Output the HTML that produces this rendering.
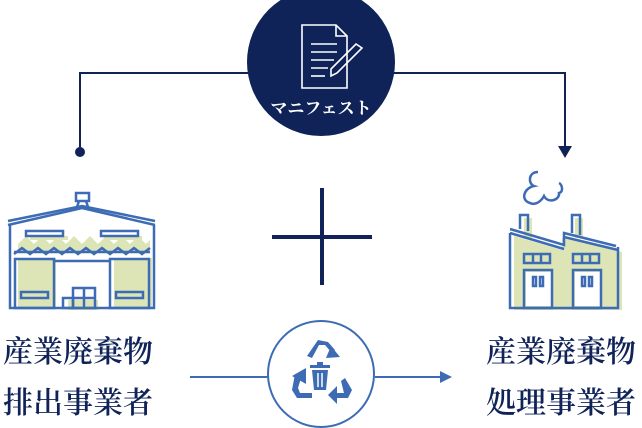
<!DOCTYPE html>
<html><head><meta charset="utf-8"><style>
body{margin:0;background:#fff;width:642px;height:428px;overflow:hidden}
svg{display:block}
text{font-family:"Liberation Serif","Noto Serif CJK SC",serif}
</style></head><body>
<svg width="642" height="428" viewBox="0 0 642 428">
<g stroke="#0f2359" stroke-width="2" fill="none">
<polyline points="80,152 80,73 250,73"/>
<polyline points="392,73 565,73 565,148"/>
</g>
<circle cx="80" cy="152" r="5" fill="#0f2359"/>
<polygon points="558,146 572,146 565,158" fill="#0f2359"/>
<circle cx="321" cy="62" r="74" fill="#0f2359"/>
<g stroke="#fff" stroke-width="1.6" fill="none">
<path d="M302,25 H336 L347,36 V88 H302 Z"/>
<path d="M336,25 V36 H347"/>
<line x1="311" y1="44" x2="337" y2="44"/><line x1="311" y1="52" x2="337" y2="52"/>
<line x1="311" y1="60" x2="334" y2="60"/><line x1="311" y1="68" x2="328" y2="68"/>
<line x1="311" y1="76" x2="325" y2="76"/>
<path d="M356,44 L362,48 L337,73 L331,76 L331,69 Z"/>
</g>
<text x="321" y="114" font-size="17" fill="#fff" text-anchor="middle" font-weight="bold">マニフェスト</text>
<g stroke="#0f2359" stroke-width="4"><line x1="272" y1="237" x2="372" y2="237"/><line x1="322" y1="188" x2="322" y2="285"/></g>
<g fill="#dde5b6">
<rect x="18" y="258" width="38" height="50"/><rect x="114" y="258" width="38" height="50"/>
<path d="M18,244 L26,236 L34,244 L42,236 L50,244 L58,236 L66,244 L74,236 L82,244 L90,236 L98,244 L106,236 L114,244 L122,236 L130,244 L138,236 L146,244 L150,240 V252 H18Z"/>
<rect x="30" y="236" width="38" height="4"/><rect x="104" y="236" width="38" height="4"/>
<rect x="68" y="300" width="30" height="10"/>
</g>
<g stroke="#3d6cb4" stroke-width="2.5" fill="none">
<rect x="76" y="193" width="13" height="8"/><path d="M79,201 L77,207 H88 L86,201"/>
<path d="M8,225 L82,208 L155,225"/><path d="M8,221 L82,206 L155,221"/>
<path d="M10,225 V308 H154 V225"/>
<rect x="26" y="231" width="37" height="5"/><rect x="101" y="231" width="37" height="5"/>
<path d="M14,254 L22,248 L30,254 L38,248 L46,254 L54,248 L62,254 L70,248 L78,254 L86,248 L94,254 L102,248 L110,254 L118,248 L126,254 L134,248 L142,254 L150,248"/>
<line x1="14" y1="252" x2="150" y2="252"/>
<rect x="15" y="259" width="39" height="49"/><rect x="110" y="259" width="39" height="49"/>
<line x1="54" y1="261" x2="110" y2="261"/>
<rect x="21" y="292" width="27" height="6"/><rect x="116" y="292" width="27" height="6"/>
<rect x="73" y="288" width="22" height="20"/><line x1="84" y1="288" x2="84" y2="308"/><line x1="73" y1="298" x2="95" y2="298"/>
<rect x="63" y="298" width="10" height="10"/>
</g>
<g fill="#dde5b6">
<path d="M514,236 L562,250 V238 L622,252 V310 H514Z"/>
<rect x="524" y="218" width="8" height="20"/><rect x="575" y="218" width="8" height="20"/>
</g>
<g fill="#fff"><rect x="526" y="272" width="26" height="34"/><rect x="575" y="272" width="26" height="34"/></g>
<g stroke="#3d6cb4" stroke-width="2.5" fill="none">
<path d="M510,233 V308 H618 V247"/>
<path d="M510,229 L564,245 V233 L616,246"/><path d="M510,233 L564,249"/><path d="M564,237 L618,250"/>
<path d="M520,229 V215 H528 V231"/><path d="M572,233 V215 H580 V235"/>
<rect x="524" y="254" width="26" height="9"/><line x1="533" y1="254" x2="533" y2="263"/><line x1="541" y1="254" x2="541" y2="263"/>
<rect x="573" y="254" width="26" height="9"/><line x1="582" y1="254" x2="582" y2="263"/><line x1="590" y1="254" x2="590" y2="263"/>
<rect x="524" y="270" width="28" height="38"/><rect x="573" y="270" width="28" height="38"/>
<rect x="533" y="277" width="3" height="9"/><rect x="540" y="277" width="3" height="9"/>
<rect x="582" y="277" width="3" height="9"/><rect x="589" y="277" width="3" height="9"/>
<path d="M538,172 C528,172 528,184 534,186 C524,188 520,200 530,203 C536,206 542,200 544,196 C548,204 560,200 559,193 C564,192 562,184 559,183"/>
</g>
<g stroke="#3d6cb4" stroke-width="2" fill="none">
<line x1="190" y1="377" x2="268" y2="377"/><line x1="375" y1="377" x2="442" y2="377"/>
<circle cx="321" cy="374" r="53"/>
</g>
<polygon points="440,371 452,377 440,383" fill="#3d6cb4"/>
<g fill="#3d6cb4">
<path d="M307,356 L318,340 L328,342 L335,350 L331,352 L325,345 L319,345 L312,358Z"/>
<path d="M331,346 L340,357 L326,358Z"/>
<path d="M295,374 L292,390 L297,398 L312,398 V393 L300,393 L298,388 L301,378Z"/>
<path d="M292,376 L306,368 L306,384Z"/>
<path d="M345,378 L352,390 L348,398 L334,398 V393 L344,393 L341,381Z"/>
<path d="M337,386 L328,395 L337,404Z"/>
<rect x="310" y="365" width="20" height="3"/><rect x="317" y="362" width="6" height="3"/>
<path d="M312,370 H328 L326,390 H314Z"/>
</g>
<g stroke="#fff" stroke-width="1.5"><line x1="318" y1="373" x2="318" y2="387"/><line x1="322" y1="373" x2="322" y2="387"/></g>
<g font-size="30" fill="#0f2359" font-weight="600">
<text x="3" y="362">産業廃棄物</text>
<text x="3" y="413">排出事業者</text>
<text x="486" y="362">産業廃棄物</text>
<text x="486" y="413">処理事業者</text>
</g>
</svg>
</body></html>
